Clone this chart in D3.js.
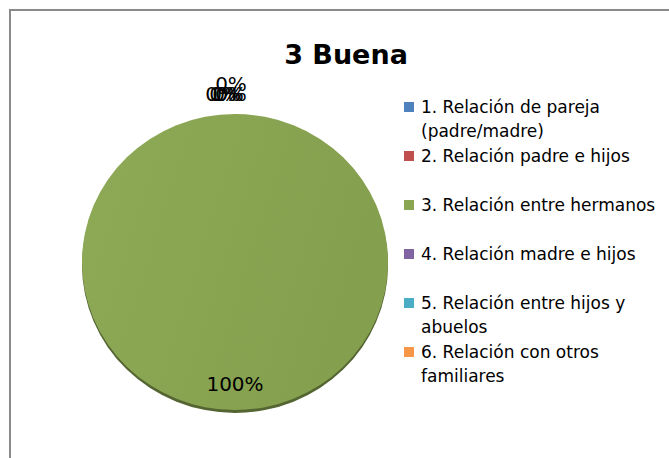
<!DOCTYPE html>
<meta charset="utf-8">
<script src="https://d3js.org/d3.v7.min.js"></script>
<style>
body { margin: 0; background: #fff; }
text { font-family: "DejaVu Sans", sans-serif; fill: #000; }
</style>
<div id="chart"></div>
<script>

// data
var categories = ["1. Relación de pareja (padre/madre)", "2. Relación padre e hijos",
  "3. Relación entre hermanos", "4. Relación madre e hijos",
  "5. Relación entre hijos y abuelos", "6. Relación con otros familiares"];
var legendLines = [["1. Relación de pareja", "(padre/madre)"], ["2. Relación padre e hijos"],
  ["3. Relación entre hermanos"], ["4. Relación madre e hijos"],
  ["5. Relación entre hijos y", "abuelos"], ["6. Relación con otros", "familiares"]];
var values = [0, 0, 100, 0, 0, 0];
var colors = ["#4F81BD", "#C0504D", "#8BA653", "#8064A2", "#4BACC6", "#F79646"];
var title = "3 Buena";

var width = 669, height = 458;

var svg = d3.select("#chart").append("svg")
    .attr("width", width)
    .attr("height", height);

// chart border
svg.append("rect")
    .attr("x", 10).attr("y", 10)
    .attr("width", 700).attr("height", 500)
    .attr("fill", "#fff")
    .attr("stroke", "#8a8a8a")
    .attr("stroke-width", 2);

svg.append("text")
    .attr("x", 346).attr("y", 64)
    .attr("text-anchor", "middle")
    .style("font-size", "27px")
    .style("font-weight", "bold")
    .text(title);

// gradients
var defs = svg.append("defs");
var grad = defs.append("linearGradient").attr("id", "g3")
    .attr("x1", "0").attr("y1", "0").attr("x2", "1").attr("y2", "0.3");
grad.append("stop").attr("offset", "0%").attr("stop-color", "#8FAA57");
grad.append("stop").attr("offset", "100%").attr("stop-color", "#849F4D");

// pie
var cx = 235, cy = 262, rx = 153, ry = 148, r = 150;

var pie = d3.pie().value(function(d) { return d; }).sort(null);
var arcs = pie(values);
var arc = d3.arc().innerRadius(0).outerRadius(r);
var labelArc = d3.arc().innerRadius(r + 20).outerRadius(r + 20);

var g = svg.append("g")
    .attr("transform", "translate(" + cx + "," + cy + ") scale(" + (rx / r) + "," + (ry / r) + ")");

// 3D rim
g.append("g").attr("transform", "translate(0,3)")
  .selectAll("path")
  .data(arcs)
  .enter().append("path")
    .attr("d", arc)
    .attr("fill", function(d, i) { return d3.color(colors[i]).darker(1.4); });

g.append("g")
  .selectAll("path")
  .data(arcs)
  .enter().append("path")
    .attr("d", arc)
    .attr("fill", function(d, i) { return i == 2 ? "url(#g3)" : colors[i]; });

// data labels (zero slices pile up at the top, like the original)
var lg = svg.append("g").attr("transform", "translate(" + cx + "," + cy + ")");
var zeroOffsets = [[-14, 0], [-10, 0], [0, 0], [-4, -10], [-7, 0], [-4, 0]];
lg.selectAll("text")
  .data(arcs)
  .enter().append("text")
    .attr("transform", function(d, i) {
      if (d.data > 0) {
        return "translate(0," + (ry - 26) + ")";
      }
      var c = labelArc.centroid(d);
      return "translate(" + (c[0] + zeroOffsets[i][0]) + "," + (c[1] * ry / r + zeroOffsets[i][1]) + ")";
    })
    .attr("text-anchor", "middle")
    .attr("dy", "0.35em")
    .style("font-size", "20px")
    .text(function(d) { return Math.round(d.data) + "%"; });

// legend
var legendY = d3.scaleLinear().domain([0, 5]).range([107, 352]);
var leg = svg.append("g");
var item = leg.selectAll("g")
  .data(legendLines)
  .enter().append("g")
    .attr("transform", function(d, i) { return "translate(404," + legendY(i) + ")"; });
item.append("rect")
    .attr("x", 0).attr("y", -5)
    .attr("width", 10).attr("height", 10)
    .attr("fill", function(d, i) { return colors[i]; });
item.selectAll("text")
  .data(function(d) { return d; })
  .enter().append("text")
    .attr("x", 17)
    .attr("y", function(d, j) { return j * 24; })
    .attr("dy", "0.35em")
    .style("font-size", "17px")
    .text(function(d) { return d; });
</script>
